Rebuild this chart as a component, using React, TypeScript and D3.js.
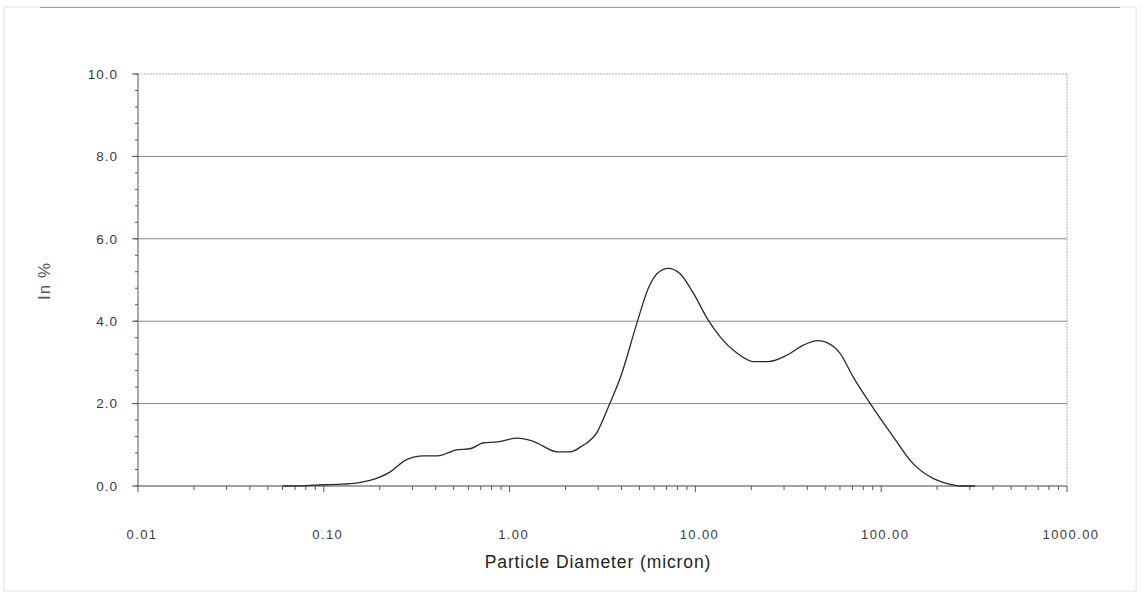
import React from "react";
import * as d3 from "d3";

// Particle size distribution (volume %) against diameter in microns
const diameters = [
  0.06, 0.08, 0.09, 0.1, 0.12, 0.15, 0.179, 0.229, 0.276, 0.345, 0.41, 0.47, 0.51, 0.62,
  0.725, 0.86, 1.1, 1.35, 1.81, 2.13, 2.41, 2.97, 3.4, 3.96, 4.87, 5.58, 6.31, 7.16,
  8.27, 9.75, 11.7, 13.6, 16.8, 20.5, 24.6, 31.2, 38.1, 45.6, 51.1, 60.1, 70.6, 87.3,
  116, 148, 189, 230, 265, 320,
];
const percents = [
  0.0, 0.01, 0.02, 0.03, 0.04, 0.07, 0.14, 0.35, 0.63, 0.73, 0.73, 0.81, 0.87, 0.91,
  1.05, 1.07, 1.16, 1.08, 0.83, 0.83, 0.95, 1.32, 1.92, 2.65, 3.99, 4.8, 5.18, 5.28,
  5.15, 4.68, 4.03, 3.62, 3.22, 3.02, 3.02, 3.18, 3.42, 3.53, 3.48, 3.22, 2.65, 2.0,
  1.2, 0.55, 0.19, 0.05, 0.0, 0.0,
];

const xTickValues = [0.01, 0.1, 1, 10, 100, 1000];
const xTickLabels = ["0.01", "0.10", "1.00", "10.00", "100.00", "1000.00"];
const yTickValues = [0, 2, 4, 6, 8, 10];
const yTickLabels = ["0.0", "2.0", "4.0", "6.0", "8.0", "10.0"];

const W = 1143;
const H = 595;
const left = 138;
const right = 1067;
const top = 74;
const bottom = 486;

export default function App() {
  const x = d3.scaleLog().domain([0.01, 1000]).range([left, right]);
  const y = d3.scaleLinear().domain([0, 10]).range([bottom, top]);

  const pts = diameters.map((d, i) => [d, percents[i]] as [number, number]);
  const line = d3
    .line<[number, number]>()
    .x((d) => x(d[0]))
    .y((d) => y(d[1]))
    .curve(d3.curveMonotoneX);

  // minor log ticks 2..9 per decade
  const minorX: number[] = [];
  for (let e = -2; e < 3; e++) {
    for (let m = 2; m <= 9; m++) minorX.push(m * Math.pow(10, e));
  }
  const minorY: number[] = [];
  for (let v = 0; v <= 10.001; v += 0.4) minorY.push(+v.toFixed(1));

  const font = "'Liberation Sans', Arial, sans-serif";
  const textColor = "#3a3a3a";

  return (
    <svg
      width={W}
      height={H}
      style={{ position: "absolute", left: 0, top: 0, background: "#fff" }}
    >
      <rect x={4} y={7} width={1132} height={584} fill="none" stroke="#e0e0e0" strokeWidth={1} />
      <line x1={40} y1={7.5} x2={1120} y2={7.5} stroke="#a0a0a0" strokeWidth={1} />

      {/* horizontal gridlines */}
      {yTickValues.slice(1).map((v) => (
        <line
          key={"g" + v}
          x1={left}
          x2={right}
          y1={y(v)}
          y2={y(v)}
          stroke={v === 10 ? "#b0b0b0" : "#8a8a8a"}
          strokeWidth={1}
          strokeDasharray={v === 10 ? "2,1" : undefined}
        />
      ))}
      {/* right border */}
      <line x1={right} x2={right} y1={top} y2={bottom} stroke="#b0b0b0" strokeDasharray="2,1" />

      {/* y axis */}
      <line x1={left} x2={left} y1={top} y2={bottom} stroke="#555" strokeWidth={1} />
      {minorY.map((v) => (
        <line key={"my" + v} x1={left - 3} x2={left} y1={y(v)} y2={y(v)} stroke="#555" />
      ))}
      {yTickValues.map((v, i) => (
        <g key={"yt" + v}>
          <line x1={left - 6} x2={left} y1={y(v)} y2={y(v)} stroke="#555" />
          <text
            x={118}
            y={y(v)}
            dy="0.35em"
            textAnchor="end"
            fontFamily={font}
            fontSize={13.5}
            letterSpacing={1}
            fill={textColor}
          >
            {yTickLabels[i]}
          </text>
        </g>
      ))}

      {/* x axis */}
      <line x1={left} x2={right} y1={bottom} y2={bottom} stroke="#444" strokeWidth={1.2} />
      {minorX.map((v) => (
        <line key={"mx" + v} x1={x(v)} x2={x(v)} y1={bottom} y2={bottom + 4} stroke="#555" />
      ))}
      {xTickValues.map((v, i) => (
        <g key={"xt" + v}>
          <line x1={x(v)} x2={x(v)} y1={bottom} y2={bottom + 6} stroke="#555" />
          <text
            x={x(v) + 4}
            y={539}
            textAnchor="middle"
            fontFamily={font}
            fontSize={13}
            letterSpacing={1.4}
            fill={textColor}
          >
            {xTickLabels[i]}
          </text>
        </g>
      ))}

      {/* distribution curve */}
      <path d={line(pts) || ""} fill="none" stroke="#2a2a2a" strokeWidth={1.3} />

      <text
        x={598}
        y={568}
        textAnchor="middle"
        fontFamily={font}
        fontSize={17.5}
        letterSpacing={0.9}
        fill="#222"
      >
        Particle Diameter (micron)
      </text>
      <text
        transform="translate(50,281) rotate(-90)"
        textAnchor="middle"
        fontFamily={font}
        fontSize={17}
        letterSpacing={1}
        fill="#555"
      >
        In %
      </text>
    </svg>
  );
}
